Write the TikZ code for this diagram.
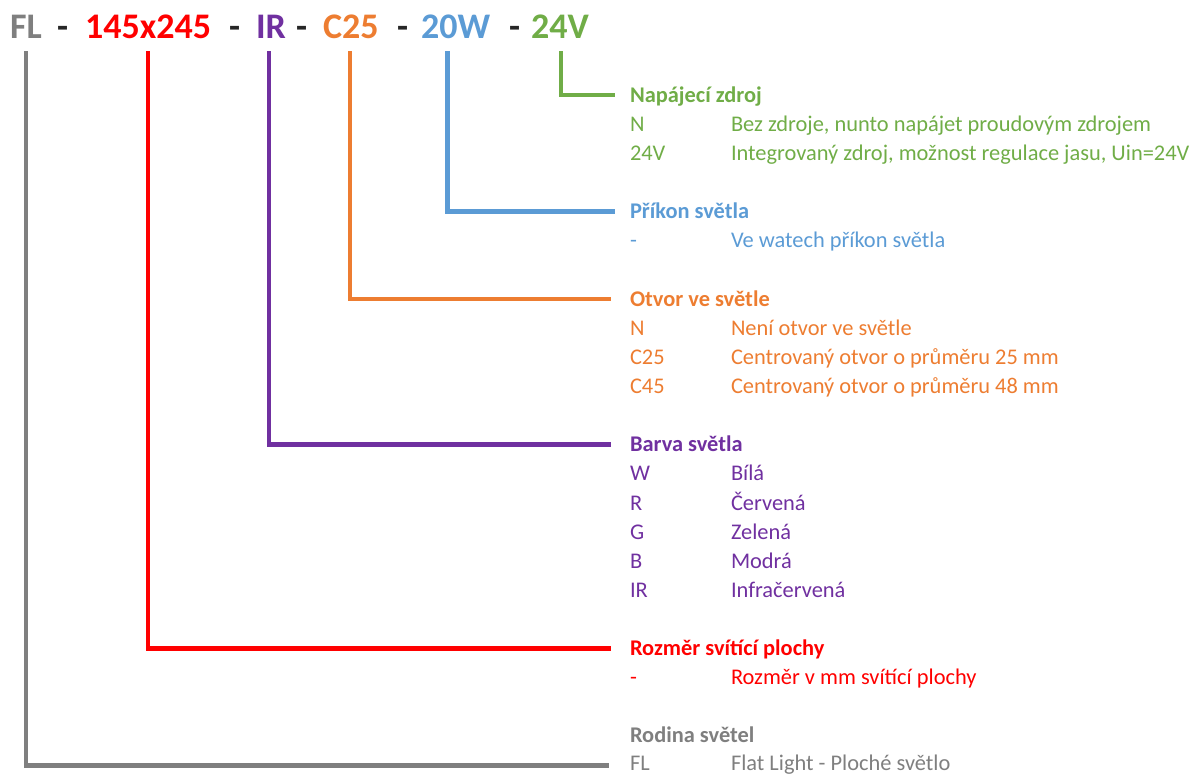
\documentclass[tikz,border=0pt]{standalone}
\usepackage{fontspec}
\setmainfont{Carlito}
\definecolor{cgray}{HTML}{7F7F7F}
\definecolor{cred}{HTML}{FF0000}
\definecolor{cpurple}{HTML}{7030A0}
\definecolor{corange}{HTML}{ED7D31}
\definecolor{cblue}{HTML}{5B9BD5}
\definecolor{cgreen}{HTML}{70AD47}
\definecolor{cdash}{HTML}{262626}
\begin{document}
\begin{tikzpicture}[x=1pt,y=-1pt,
  code/.style={font=\fontsize{36}{40}\selectfont\bfseries, inner sep=0pt, outer sep=0pt, anchor=base west},
  title/.style={font=\fontsize{22.4}{26}\selectfont\bfseries, inner sep=0pt, outer sep=0pt, anchor=west, text height=14.4pt, text depth=0pt},
  item/.style={font=\fontsize{22.4}{26}\selectfont, inner sep=0pt, outer sep=0pt, anchor=west, text height=14.4pt, text depth=0pt},
  conn/.style={line width=4.5pt, shorten <=13pt}]
\useasboundingbox (0,0) rectangle (1191,774);

% header code
\node[code, text=cgray]   (cFL)  at (10,38)  {FL};
\node[code, text=cdash]   (d1)   at (57,38)  {-};
\node[code, text=cred]    (cSz)  at (85,38)  {145x245};
\node[code, text=cdash]   (d2)   at (229,38) {-};
\node[code, text=cpurple] (cIR)  at (256,38) {IR};
\node[code, text=cdash]   (d3)   at (296,38) {-};
\node[code, text=corange] (cC)   at (323,38) {C25};
\node[code, text=cdash]   (d4)   at (397,38) {-};
\node[code, text=cblue]   (cW)   at (421,38) {20W};
\node[code, text=cdash]   (d5)   at (509,38) {-};
\node[code, text=cgreen]  (cV)   at (531,38) {24V};

% Napajeci zdroj
\node[title, text=cgreen] (tV) at (630,95) {Napájecí zdroj};
\node[item, text=cgreen] (tV1a) at (630,124.1) {N};
\node[item, text=cgreen] (tV1b) at (731,124.1) {Bez zdroje, nunto napájet proudovým zdrojem};
\node[item, text=cgreen] (tV2a) at (630,153.3) {24V};
\node[item, text=cgreen] (tV2b) at (731,153.3) {Integrovaný zdroj, možnost regulace jasu, Uin=24V};

% Prikon svetla
\node[title, text=cblue] (tW) at (630,211.5) {Příkon světla};
\node[item, text=cblue] (tW1a) at (630,240.7) {-};
\node[item, text=cblue] (tW1b) at (731,240.7) {Ve watech příkon světla};

% Otvor ve svetle
\node[title, text=corange] (tC) at (630,298.9) {Otvor ve světle};
\node[item, text=corange] (tC1a) at (630,328.0) {N};
\node[item, text=corange] (tC1b) at (731,328.0) {Není otvor ve světle};
\node[item, text=corange] (tC2a) at (630,357.2) {C25};
\node[item, text=corange] (tC2b) at (731,357.2) {Centrovaný otvor o průměru 25 mm};
\node[item, text=corange] (tC3a) at (630,386.3) {C45};
\node[item, text=corange] (tC3b) at (731,386.3) {Centrovaný otvor o průměru 48 mm};

% Barva svetla
\node[title, text=cpurple] (tIR) at (630,444.6) {Barva světla};
\node[item, text=cpurple] (tIR1a) at (630,473.7) {W};
\node[item, text=cpurple] (tIR1b) at (731,473.7) {Bílá};
\node[item, text=cpurple] (tIR2a) at (630,502.8) {R};
\node[item, text=cpurple] (tIR2b) at (731,502.8) {Červená};
\node[item, text=cpurple] (tIR3a) at (630,532.0) {G};
\node[item, text=cpurple] (tIR3b) at (731,532.0) {Zelená};
\node[item, text=cpurple] (tIR4a) at (630,561.1) {B};
\node[item, text=cpurple] (tIR4b) at (731,561.1) {Modrá};
\node[item, text=cpurple] (tIR5a) at (630,590.2) {IR};
\node[item, text=cpurple] (tIR5b) at (731,590.2) {Infračervená};

% Rozmer
\node[title, text=cred] (tSz) at (630,648.5) {Rozměr svítící plochy};
\node[item, text=cred] (tSz1a) at (630,677.6) {-};
\node[item, text=cred] (tSz1b) at (731,677.6) {Rozměr v mm svítící plochy};

% Rodina
\node[title, text=cgray] (tFL) at (630,735.5) {Rodina světel};
\node[item, text=cgray] (tFL1a) at (630,763.5) {FL};
\node[item, text=cgray] (tFL1b) at (731,763.5) {Flat Light - Ploché světlo};

% connectors
\draw[conn, cgreen]  ([xshift=1pt]cV.south)  |- ([xshift=-15pt]tV.west);
\draw[conn, cblue]   ([xshift=-8pt]cW.south) |- ([xshift=-15pt]tW.west);
\draw[conn, corange] ([xshift=-1pt]cC.south) |- ([xshift=-19pt]tC.west);
\draw[conn, cpurple] ([xshift=-2pt]cIR.south) |- ([xshift=-19pt]tIR.west);
\draw[conn, cred]    (cSz.south) |- ([xshift=-19pt]tSz.west);
\draw[conn, cgray]   (cFL.south) |- ([xshift=-21pt,yshift=-2pt]tFL1a.west);
\end{tikzpicture}
\end{document}
